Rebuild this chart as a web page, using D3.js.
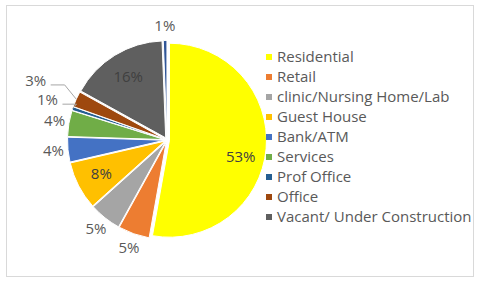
<!DOCTYPE html>
<html>
<head>
<meta charset="utf-8">
<script src="https://cdn.jsdelivr.net/npm/d3@7"></script>
<style>
  body { margin: 0; background: #fff; }
  text { font-family: "Open Sans", Lato, sans-serif; }
</style>
</head>
<body>
<svg id="chart" width="480" height="283"></svg>
<script>
// categories, in drawing order (clockwise from 12 o'clock)
var categories = ["Residential", "Retail", "clinic/Nursing Home/Lab", "Guest House",
                  "Bank/ATM", "Services", "Prof Office", "Office",
                  "Vacant/ Under Construction", ""];
// share of each category
var shares = [52.6, 5.2, 5.3, 8.0, 4.1, 4.3, 0.6, 2.6, 16.3, 0.6];
var colors = ["#FFFF00", "#ED7D31", "#A5A5A5", "#FFC000", "#4472C4",
              "#70AD47", "#255E91", "#9E480E", "#5F5F5F", "#2F5597"];
// the last slice has no legend entry
var legendCount = 9;

var svg = d3.select("#chart");
var cx = 167, cy = 140, R = 97, explode = 2.5;

// chart frame
svg.append("rect")
   .attr("x", 6.5).attr("y", 5.5)
   .attr("width", 467).attr("height", 271)
   .attr("fill", "#fff")
   .attr("stroke", "#d9d9d9");

var total = d3.sum(shares);
var rows = shares.map(function(v, i) { return {name: categories[i], value: v, color: colors[i]}; });

var pie = d3.pie().sort(null).value(function(d) { return d.value; });
var arcs = pie(rows);
var arc = d3.arc().innerRadius(0).outerRadius(R);

function mid(d) { return (d.startAngle + d.endAngle) / 2; }
function polar(a, r) { return [cx + r * Math.sin(a), cy - r * Math.cos(a)]; }

var g = svg.append("g");
g.selectAll("path")
  .data(arcs)
  .enter()
    .append("path")
      .attr("d", arc)
      .attr("transform", function(d) {
        var p = polar(mid(d), explode);
        return "translate(" + p[0] + "," + p[1] + ")";
      })
      .attr("fill", function(d) { return d.data.color; })
      .attr("stroke", "#fff")
      .attr("stroke-width", 1);

// data labels: big slices inside, small ones outside (pushed out when crowded)
var placed = [];
arcs.forEach(function(d) {
  var pct = Math.round(d.value / total * 100) + "%";
  var a = mid(d);
  var inside = d.value / total >= 0.075;
  var r = inside ? 74 : 114;
  var p = polar(a, r);
  if (d.value / total > 0.5) p[1] += 10;  // excel sits the big one a bit lower
  if (!inside) {
    while (placed.some(function(q) { return Math.hypot(q[0] - p[0], q[1] - p[1]) < 22; })) {
      r += 2;
      p = polar(a, r);
    }
    placed.push(p);
  }
  svg.append("text")
     .attr("x", p[0]).attr("y", p[1])
     .attr("dy", "0.35em")
     .attr("text-anchor", "middle")
     .attr("font-size", 15)
     .attr("fill", inside ? "#404040" : "#595959")
     .text(pct);
  if (r > 125) {
    var e = polar(a, R + explode);
    svg.append("polyline")
       .attr("points", [[p[0] + 15, p[1] + 4], [p[0] + 29, p[1] + 4], e].join(" "))
       .attr("fill", "none")
       .attr("stroke", "#a6a6a6")
       .attr("stroke-width", 1);
  }
});

// legend
var y = d3.scalePoint()
  .domain(categories.slice(0, legendCount))
  .range([57, 217]);

var leg = svg.selectAll("g.leg")
  .data(rows.slice(0, legendCount))
  .enter()
    .append("g")
      .attr("class", "leg")
      .attr("transform", function(d) { return "translate(266," + y(d.name) + ")"; });
leg.append("rect")
   .attr("x", 0).attr("y", -3)
   .attr("width", 6).attr("height", 6)
   .attr("fill", function(d) { return d.color; });
leg.append("text")
   .attr("x", 11).attr("dy", "0.35em")
   .attr("font-size", 15)
   .attr("fill", "#595959")
   .text(function(d) { return d.name; });
</script>
</body>
</html>
